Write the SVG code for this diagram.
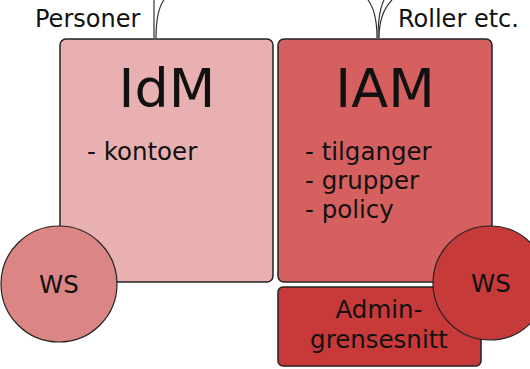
<svg xmlns="http://www.w3.org/2000/svg" width="530" height="369" viewBox="0 0 530 369">
<style>
.box{stroke:#222;stroke-width:1.5}
.ws{stroke:#222;stroke-width:1.2}
text{font-family:"DejaVu Sans",sans-serif;fill:#111}
.big{font-size:54px;text-anchor:middle}
.item{font-size:24.5px}
.lbl{font-size:24px}
.mid{font-size:24.5px;text-anchor:middle}
.ln{fill:none;stroke:#333;stroke-width:1.2}
</style>
<rect width="530" height="369" fill="#fff"/>
<g id="connectors">
<path class="ln" d="M154,38 L154,0"/>
<path class="ln" d="M156,38 C156,20 158,8 164,0"/>
<path class="ln" d="M377,38 C377,20 374,8 368,0"/>
<path class="ln" d="M378,38 C378,20 380,8 384,0"/>
<path class="ln" d="M379,38 C379,20 384,8 392,0"/>
</g>
<g id="personer"><text class="lbl" x="35" y="27">Personer</text></g>
<g id="roller"><text class="lbl" x="398" y="27">Roller etc.</text></g>
<g id="idm">
<rect class="box" x="60" y="39" width="213" height="243" rx="6" fill="#e8b0b0"/>
<text class="big" x="167" y="107">IdM</text>
<text class="item" x="87" y="160">- kontoer</text>
</g>
<g id="iam">
<rect class="box" x="278" y="39" width="214" height="243" rx="6" fill="#d66060"/>
<text class="big" x="385" y="107">IAM</text>
<text class="item" x="305" y="160">- tilganger</text>
<text class="item" x="305" y="189">- grupper</text>
<text class="item" x="305" y="218">- policy</text>
</g>
<g id="admin">
<rect class="box" x="278" y="287" width="203" height="79" rx="5" fill="#c83a3a"/>
<text class="mid" x="379" y="318">Admin-</text>
<text class="mid" x="379" y="348">grensesnitt</text>
</g>
<g id="ws-left">
<circle class="ws" cx="59" cy="284" r="58" fill="#dc8585"/>
<text class="mid" x="59" y="293">WS</text>
</g>
<g id="ws-right">
<circle class="ws" cx="490" cy="283" r="57" fill="#c63a3a"/>
<text class="mid" x="491" y="292">WS</text>
</g>
</svg>
